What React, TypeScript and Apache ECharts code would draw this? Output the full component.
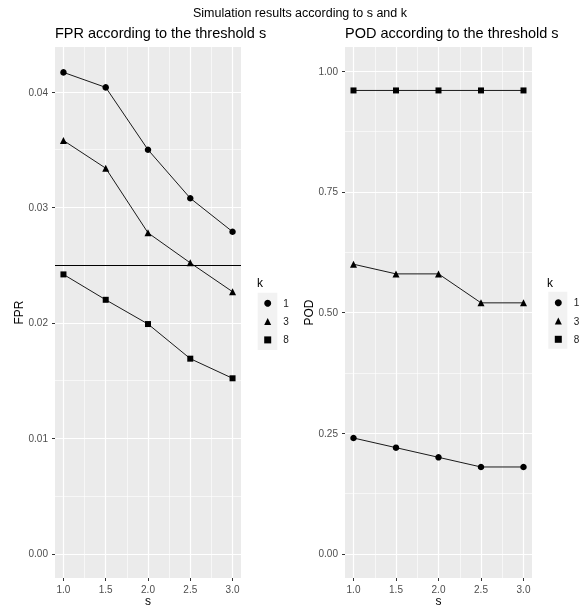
import React, { useEffect, useRef } from "react";
import * as echarts from "echarts";

const sValues = [1.0, 1.5, 2.0, 2.5, 3.0];
const kLevels = ["1", "3", "8"];
const fprK1 = [0.0417, 0.0404, 0.035, 0.0308, 0.0279];
const fprK3 = [0.0358, 0.0334, 0.0278, 0.0252, 0.0227];
const fprK8 = [0.0242, 0.022, 0.0199, 0.0169, 0.0152];
const podK1 = [0.24, 0.22, 0.2, 0.18, 0.18];
const podK3 = [0.6, 0.58, 0.58, 0.52, 0.52];
const podK8 = [0.96, 0.96, 0.96, 0.96, 0.96];
const fprThreshold = 0.025;
const xTicks = [1.0, 1.5, 2.0, 2.5, 3.0];
const fprTicks = [0, 0.01, 0.02, 0.03, 0.04];
const podTicks = [0, 0.25, 0.5, 0.75, 1.0];
const podMinorTicks = [0.125, 0.375, 0.625, 0.875];

const FONT = "'Liberation Sans', Arial, sans-serif";
const symbols = ["circle", "triangle", "rect"];
const symbolSizes = [6.5, 7, 6];

function pairs(vals: number[]) {
  return sValues.map((s, i) => [s, vals[i]]);
}

function xAxisFor(gridIndex: number) {
  return {
    type: "value",
    gridIndex,
    min: 0.9,
    max: 3.1,
    splitNumber: 5,
    name: "s",
    nameLocation: "middle",
    nameGap: 23,
    nameMoveOverlap: false,
    nameTextStyle: { fontSize: 12, lineHeight: 12, verticalAlign: "middle", color: "#000", fontFamily: FONT },
    axisLine: { show: false, onZero: false },
    axisTick: { show: true, length: 3, customValues: xTicks, lineStyle: { color: "#333" } },
    axisLabel: {
      customValues: xTicks,
      margin: 6,
      fontSize: 10,
      color: "#4D4D4D",
      fontFamily: FONT,
      formatter: (v: number) => v.toFixed(1),
    },
    splitLine: { show: true, lineStyle: { color: "#FFFFFF", width: 1.2 } },
    minorTick: { show: false, splitNumber: 2 },
    minorSplitLine: { show: true, lineStyle: { color: "#FFFFFF", width: 0.6 } },
  };
}

function yAxisFor(gridIndex: number, name: string, min: number, max: number, ticks: number[], minor: boolean) {
  return {
    type: "value",
    gridIndex,
    min,
    max,
    splitNumber: 5,
    name,
    nameLocation: "middle",
    nameGap: 27,
    nameTextStyle: { fontSize: 12, color: "#000", fontFamily: FONT },
    axisLine: { show: false, onZero: false },
    axisTick: { show: true, length: 3, customValues: ticks, lineStyle: { color: "#333" } },
    axisLabel: {
      customValues: ticks,
      margin: 7,
      fontSize: 10,
      color: "#4D4D4D",
      fontFamily: FONT,
      formatter: (v: number) => v.toFixed(2),
    },
    splitLine: { show: true, lineStyle: { color: "#FFFFFF", width: 1.2 } },
    minorTick: { show: false, splitNumber: 2 },
    minorSplitLine: { show: minor, lineStyle: { color: "#FFFFFF", width: 0.6 } },
  };
}

function legendFor(left: number, top: number) {
  return {
    orient: "vertical",
    left,
    top,
    padding: 0,
    itemWidth: 7,
    itemHeight: 7,
    itemGap: 6.3,
    selectedMode: false,
    data: kLevels.map((k, i) => ({ name: k, icon: symbols[i] })),
    textStyle: { fontSize: 10, lineHeight: 12, color: "#1A1A1A", fontFamily: FONT, padding: [0, 0, 0, 7] },
  };
}

export default function App() {
  const ref = useRef<HTMLDivElement>(null);
  useEffect(() => {
    if (!ref.current) return;
    const chart = echarts.init(ref.current, null, { renderer: "svg" });
    const fprSets = [fprK1, fprK3, fprK8];
    const podSets = [podK1, podK3, podK8];
    const series: any[] = [];
    kLevels.forEach((k, i) => {
      const s: any = {
        type: "line",
        name: k,
        xAxisIndex: 0,
        yAxisIndex: 0,
        data: pairs(fprSets[i]),
        symbol: symbols[i],
        symbolSize: symbolSizes[i],
        showAllSymbol: true,
        itemStyle: { color: "#000" },
        lineStyle: { color: "#1A1A1A", width: 1 },
        z: 3,
      };
      if (i === 2) {
        s.markLine = {
          silent: true,
          symbol: "none",
          precision: 6,
          label: { show: false },
          lineStyle: { color: "#000", width: 1, type: "solid" },
          data: [{ yAxis: fprThreshold }],
        };
      }
      series.push(s);
    });
    kLevels.forEach((k, i) => {
      series.push({
        type: "line",
        name: k,
        xAxisIndex: 1,
        yAxisIndex: 1,
        data: pairs(podSets[i]),
        symbol: symbols[i],
        symbolSize: symbolSizes[i],
        itemStyle: { color: "#000" },
        lineStyle: { color: "#1A1A1A", width: 1 },
        z: 3,
      });
    });

    const podMinorAxis = {
      type: "value",
      gridIndex: 1,
      min: -0.05,
      max: 1.05,
      axisLine: { show: false, onZero: false },
      axisTick: { show: false, customValues: podMinorTicks },
      axisLabel: { show: false, customValues: podMinorTicks },
      splitLine: { show: true, lineStyle: { color: "#FFFFFF", width: 0.6 } },
    };

    chart.setOption({
      animation: false,
      textStyle: { fontFamily: FONT },
      title: [
        {
          text: "Simulation results according to s and k",
          left: 193,
          top: 6,
          padding: 0,
          textStyle: { fontSize: 12.5, fontWeight: "normal", color: "#000", fontFamily: FONT },
        },
        {
          text: "FPR according to the threshold s",
          left: 55,
          top: 25,
          padding: 0,
          textStyle: { fontSize: 14.5, fontWeight: "normal", color: "#000", fontFamily: FONT },
        },
        {
          text: "POD according to the threshold s",
          left: 345,
          top: 25,
          padding: 0,
          textStyle: { fontSize: 14.5, fontWeight: "normal", color: "#000", fontFamily: FONT },
        },
      ],
      grid: [
        {
          left: 55, top: 47, width: 186, height: 531, show: true, backgroundColor: "#EBEBEB", borderWidth: 0,
          containLabel: false, outerBoundsMode: "none",
        },
        {
          left: 345, top: 47, width: 187, height: 531, show: true, backgroundColor: "#EBEBEB", borderWidth: 0,
          containLabel: false, outerBoundsMode: "none",
        },
      ],
      xAxis: [xAxisFor(0), xAxisFor(1)],
      yAxis: [
        yAxisFor(0, "FPR", -0.0021, 0.0439, fprTicks, true),
        yAxisFor(1, "POD", -0.05, 1.05, podTicks, false),
        podMinorAxis,
      ],
      legend: [legendFor(264.2, 297.3), legendFor(554.8, 296.7)],
      graphic: [
        { type: "rect", z: 0, shape: { x: 257.7, y: 292.7, width: 19.6, height: 57.3 }, style: { fill: "#F2F2F2" } },
        { type: "rect", z: 0, shape: { x: 548.3, y: 291.7, width: 19, height: 57 }, style: { fill: "#F2F2F2" } },
        {
          type: "text",
          x: 257,
          y: 283.3,
          style: { text: "k", fontSize: 12, fill: "#000", fontFamily: FONT, verticalAlign: "middle", textAlign: "left" },
        },
        {
          type: "text",
          x: 547,
          y: 283.3,
          style: { text: "k", fontSize: 12, fill: "#000", fontFamily: FONT, verticalAlign: "middle", textAlign: "left" },
        },
      ],
      series,
    });
    return () => chart.dispose();
  }, []);
  return <div ref={ref} style={{ position: "fixed", left: 0, top: 0, width: 579, height: 609 }} />;
}
